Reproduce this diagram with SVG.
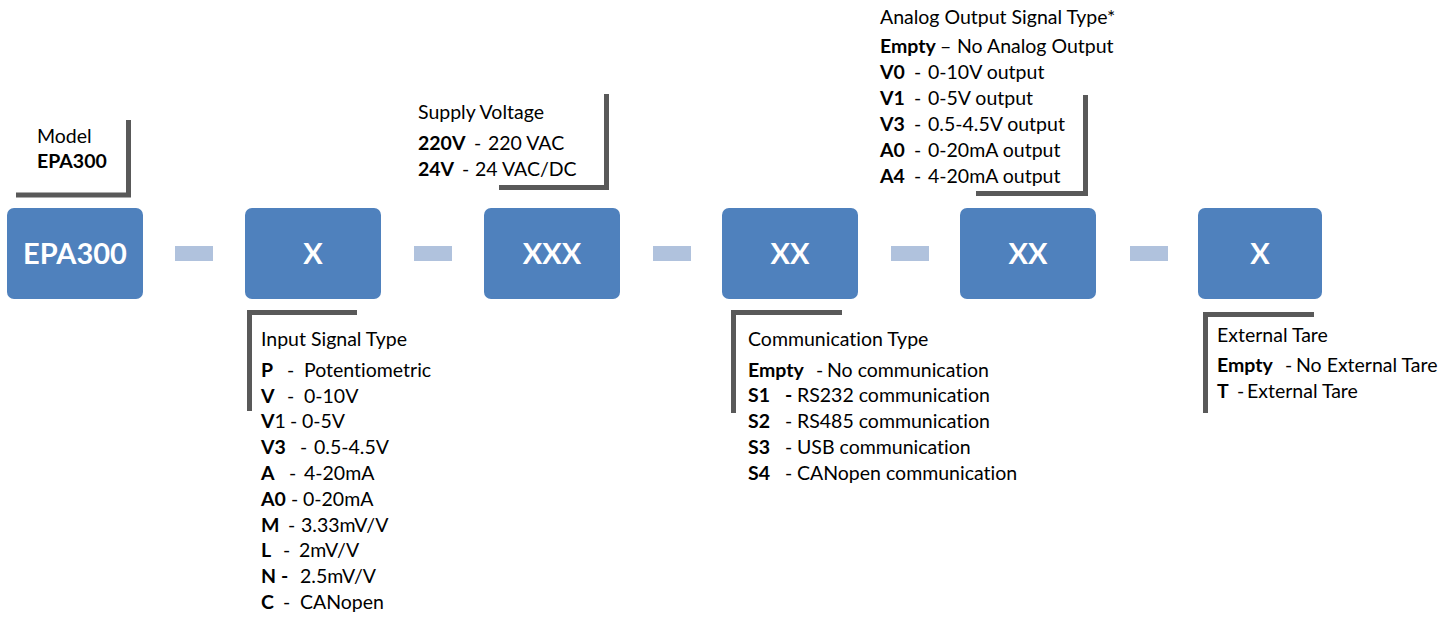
<svg xmlns="http://www.w3.org/2000/svg" width="1453" height="618" viewBox="0 0 1453 618">
<style>
.box{fill:#4F81BD}
.bl{fill:#fff;font-family:Lato,"Open Sans",sans-serif;font-weight:bold;font-size:29px;text-anchor:middle}
.t{fill:#000;font-family:Lato,"Open Sans",sans-serif;font-size:19.5px;font-variant-ligatures:none}
.b{font-weight:bold}
.br{fill:none;stroke:#595959;stroke-width:5}
.dash{fill:#B0C2DD}
</style>
<rect width="1453" height="618" fill="#fff"/>
<g id="connectors">
<rect class="dash" x="175" y="246" width="38" height="15"/>
<rect class="dash" x="414" y="246" width="38" height="15"/>
<rect class="dash" x="653" y="246" width="38" height="15"/>
<rect class="dash" x="891" y="246" width="38" height="15"/>
<rect class="dash" x="1130" y="246" width="38" height="15"/>
</g>
<g id="node-model">
<rect class="box" x="7" y="208" width="136" height="91" rx="7"/>
<text class="bl" x="75" y="264">EPA300</text>
<path class="br" d="M16,195 H128.5 V120"/>
<text class="t" x="37" y="143">Model</text>
<text class="t b" x="37" y="168">EPA300</text>
</g>
<g id="node-input">
<rect class="box" x="245" y="208" width="136" height="91" rx="7"/>
<text class="bl" x="313" y="264">X</text>
<path class="br" d="M357,312.5 H249.5 V411"/>
<text class="t" x="261" y="346">Input Signal Type</text>
<text class="t" y="377"><tspan class="b" x="261">P</tspan><tspan x="287">-</tspan><tspan x="304">Potentiometric</tspan></text>
<text class="t" y="403"><tspan class="b" x="261">V</tspan><tspan x="287">-</tspan><tspan x="304">0-10V</tspan></text>
<text class="t" y="428"><tspan class="b" x="261">V</tspan><tspan>1</tspan><tspan x="290">-</tspan><tspan x="302">0-5V</tspan></text>
<text class="t" y="454"><tspan class="b" x="261">V3</tspan><tspan x="300">-</tspan><tspan x="314">0.5-4.5V</tspan></text>
<text class="t" y="480"><tspan class="b" x="261">A</tspan><tspan x="289">-</tspan><tspan x="304">4-20mA</tspan></text>
<text class="t" y="506"><tspan class="b" x="261">A0</tspan><tspan x="291">-</tspan><tspan x="303">0-20mA</tspan></text>
<text class="t" y="532"><tspan class="b" x="261">M</tspan><tspan x="288">-</tspan><tspan x="301">3.33mV/V</tspan></text>
<text class="t" y="557"><tspan class="b" x="261">L</tspan><tspan x="283">-</tspan><tspan x="299">2mV/V</tspan></text>
<text class="t" y="583"><tspan class="b" x="261">N</tspan><tspan class="b" x="281">-</tspan><tspan x="300">2.5mV/V</tspan></text>
<text class="t" y="609"><tspan class="b" x="261">C</tspan><tspan x="283">-</tspan><tspan x="300">CANopen</tspan></text>
</g>
<g id="node-supply">
<rect class="box" x="484" y="208" width="136" height="91" rx="7"/>
<text class="bl" x="552" y="264">XXX</text>
<path class="br" d="M499,187.5 H606.5 V94"/>
<text class="t" x="418" y="119">Supply Voltage</text>
<text class="t" y="150"><tspan class="b" x="418">220V</tspan><tspan x="474">-</tspan><tspan x="488">220 VAC</tspan></text>
<text class="t" y="176"><tspan class="b" x="418">24V</tspan><tspan x="462">-</tspan><tspan x="475">24 VAC/DC</tspan></text>
</g>
<g id="node-comm">
<rect class="box" x="722" y="208" width="136" height="91" rx="7"/>
<text class="bl" x="790" y="264">XX</text>
<path class="br" d="M842,312.5 H733.5 V413"/>
<text class="t" x="748" y="346">Communication Type</text>
<text class="t" y="377"><tspan class="b" x="748">Empty</tspan><tspan x="816">-</tspan><tspan x="827">No communication</tspan></text>
<text class="t" y="402"><tspan class="b" x="748">S1</tspan><tspan class="b" x="785">-</tspan><tspan x="797">RS232 communication</tspan></text>
<text class="t" y="428"><tspan class="b" x="748">S2</tspan><tspan x="785">-</tspan><tspan x="797">RS485 communication</tspan></text>
<text class="t" y="454"><tspan class="b" x="748">S3</tspan><tspan x="785">-</tspan><tspan x="797">USB communication</tspan></text>
<text class="t" y="480"><tspan class="b" x="748">S4</tspan><tspan x="785">-</tspan><tspan x="797">CANopen communication</tspan></text>
</g>
<g id="node-analog">
<rect class="box" x="960" y="208" width="136" height="91" rx="7"/>
<text class="bl" x="1028" y="264">XX</text>
<path class="br" d="M976,193.5 H1085.5 V95"/>
<text class="t" x="880" y="24">Analog Output Signal Type*</text>
<text class="t" y="53"><tspan class="b" x="880">Empty</tspan><tspan x="940">–</tspan><tspan x="957">No Analog Output</tspan></text>
<text class="t" y="79"><tspan class="b" x="880">V0</tspan><tspan x="914">-</tspan><tspan x="928">0-10V output</tspan></text>
<text class="t" y="105"><tspan class="b" x="880">V1</tspan><tspan x="914">-</tspan><tspan x="928">0-5V output</tspan></text>
<text class="t" y="131"><tspan class="b" x="880">V3</tspan><tspan x="914">-</tspan><tspan x="928">0.5-4.5V output</tspan></text>
<text class="t" y="157"><tspan class="b" x="880">A0</tspan><tspan x="914">-</tspan><tspan x="928">0-20mA output</tspan></text>
<text class="t" y="183"><tspan class="b" x="880">A4</tspan><tspan x="914">-</tspan><tspan x="928">4-20mA output</tspan></text>
</g>
<g id="node-tare">
<rect class="box" x="1198" y="208" width="124" height="91" rx="7"/>
<text class="bl" x="1260" y="264">X</text>
<path class="br" d="M1314,314.5 H1205.5 V413"/>
<text class="t" x="1217" y="342">External Tare</text>
<text class="t" y="372"><tspan class="b" x="1217">Empty</tspan><tspan x="1285">-</tspan><tspan x="1296">No External Tare</tspan></text>
<text class="t" y="398"><tspan class="b" x="1217">T</tspan><tspan x="1237">-</tspan><tspan x="1247">External Tare</tspan></text>
</g>
</svg>
